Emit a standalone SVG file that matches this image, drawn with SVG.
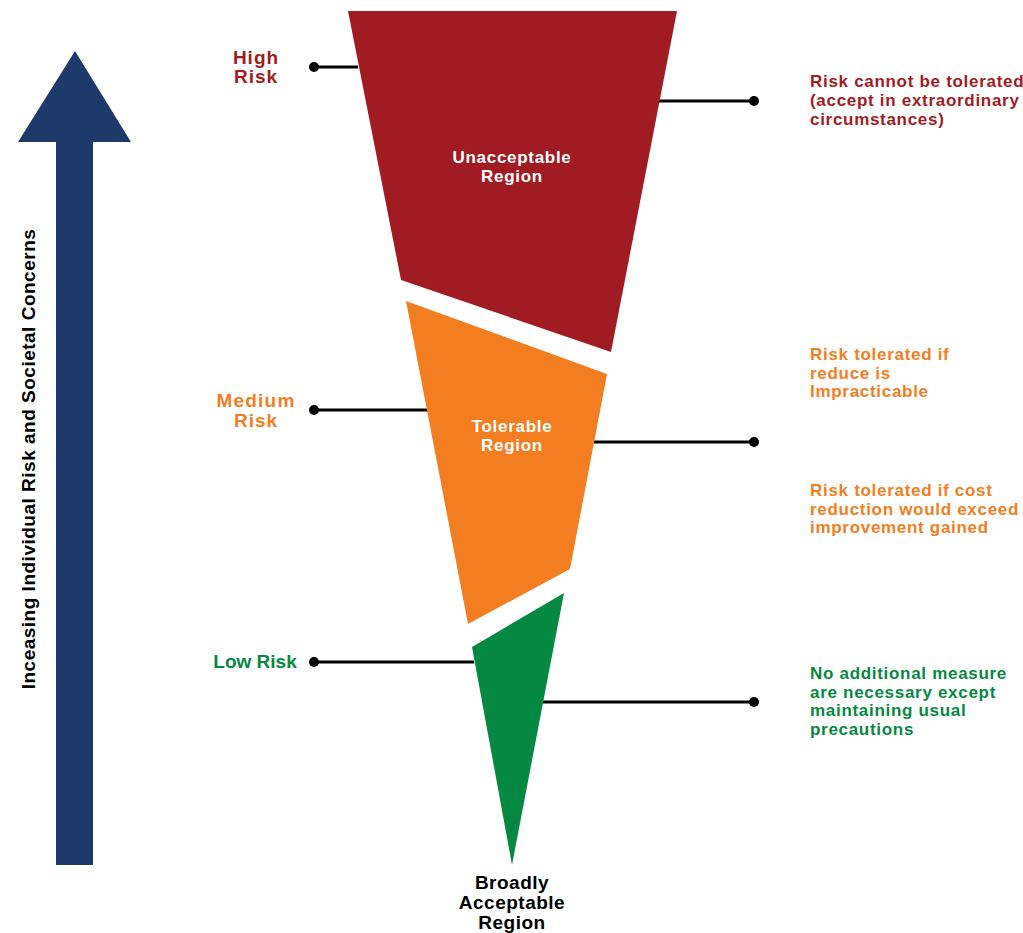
<svg xmlns="http://www.w3.org/2000/svg" width="1023" height="933" viewBox="0 0 1023 933">
<style>
text{font-family:"Liberation Sans",Arial,sans-serif;font-weight:bold;font-size:17px;letter-spacing:0.7px}
.big{font-size:19px;letter-spacing:0.5px}
.red{fill:#A11C22}.org{fill:#F27E21}.grn{fill:#058942}.wht{fill:#fff}.blk{fill:#000}
.mid{text-anchor:middle}
.ln{stroke:#000;stroke-width:3;fill:none}
</style>
<rect width="1023" height="933" fill="#fff"/>
<g id="axis-arrow">
<polygon points="75,51 131,142 93,142 93,865 56,865 56,142 18,142" fill="#1D3A6B"/>
<text class="blk mid big" transform="translate(35,459) rotate(-90)">Inceasing Individual Risk and Societal Concerns</text>
</g>
<g id="connectors">
<line class="ln" x1="314" y1="67" x2="358" y2="67"/><circle cx="314" cy="67" r="5"/>
<line class="ln" x1="659" y1="101" x2="754" y2="101"/><circle cx="754" cy="101" r="5"/>
<line class="ln" x1="314" y1="410" x2="429" y2="410"/><circle cx="314" cy="410" r="5"/>
<line class="ln" x1="594" y1="442" x2="754" y2="442"/><circle cx="754" cy="442" r="5"/>
<line class="ln" x1="314" y1="662" x2="474" y2="662"/><circle cx="314" cy="662" r="5"/>
<line class="ln" x1="542" y1="702" x2="754" y2="702"/><circle cx="754" cy="702" r="5"/>
</g>
<g id="unacceptable">
<polygon points="348,11 677,11 611,352 401,280" fill="#A11C22"/>
<text class="wht mid" x="512" y="163">Unacceptable</text>
<text class="wht mid" x="512" y="182">Region</text>
</g>
<g id="tolerable">
<polygon points="406,301 607,374 570,569 468,624" fill="#F27E21"/>
<text class="wht mid" x="512" y="432">Tolerable</text>
<text class="wht mid" x="512" y="451">Region</text>
</g>
<g id="acceptable">
<polygon points="472,647 564,593 512,865" fill="#058942"/>
<text class="blk mid big" x="512" y="889">Broadly</text>
<text class="blk mid big" x="512" y="909">Acceptable</text>
<text class="blk mid big" x="512" y="929">Region</text>
</g>
<g id="high-risk">
<text class="red mid big" x="256" y="64" style="letter-spacing:1px">High</text>
<text class="red mid big" x="256" y="83" style="letter-spacing:1px">Risk</text>
</g>
<g id="medium-risk">
<text class="org mid big" x="256" y="407" style="letter-spacing:1.2px">Medium</text>
<text class="org mid big" x="256" y="427" style="letter-spacing:1px">Risk</text>
</g>
<g id="low-risk">
<text class="grn mid big" x="255" y="668" style="letter-spacing:0px">Low Risk</text>
</g>
<g id="desc-unacceptable">
<text class="red" x="810" y="87">Risk cannot be tolerated</text>
<text class="red" x="810" y="106">(accept in extraordinary</text>
<text class="red" x="810" y="125">circumstances)</text>
</g>
<g id="desc-tolerable-1">
<text class="org" x="810" y="360">Risk tolerated if</text>
<text class="org" x="810" y="379">reduce is</text>
<text class="org" x="810" y="397">Impracticable</text>
</g>
<g id="desc-tolerable-2">
<text class="org" x="810" y="496">Risk tolerated if cost</text>
<text class="org" x="810" y="515">reduction would exceed</text>
<text class="org" x="810" y="533">improvement gained</text>
</g>
<g id="desc-acceptable">
<text class="grn" x="810" y="679">No additional measure</text>
<text class="grn" x="810" y="698">are necessary except</text>
<text class="grn" x="810" y="716">maintaining usual</text>
<text class="grn" x="810" y="735">precautions</text>
</g>
</svg>
